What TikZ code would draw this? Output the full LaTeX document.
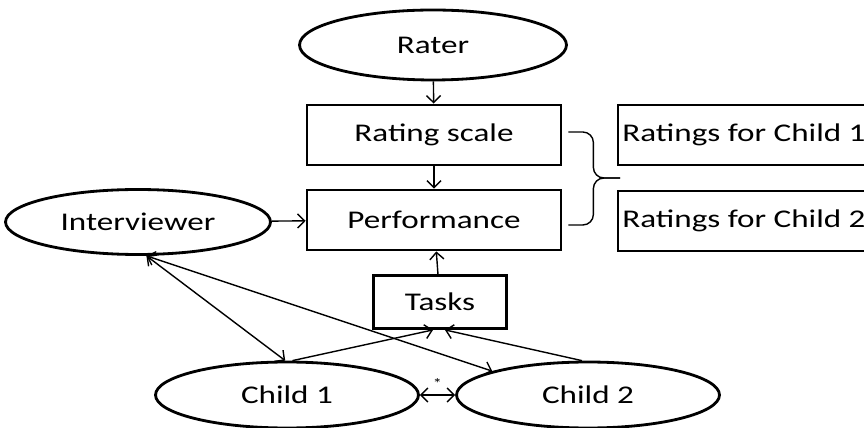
\documentclass[tikz,border=0pt]{standalone}
\usepackage{fontspec}
\setmainfont{Carlito}[FakeStretch=1.3]
\usepackage{tikz}
\usetikzlibrary{arrows.meta,shapes.geometric}
\tikzset{>={Straight Barb[length=4pt,width=8pt]}}

\begin{document}
\begin{tikzpicture}[x=0.02cm,y=-0.02cm]
      \tikzstyle{oval}=[draw,ellipse,line width=1.6pt,inner sep=0pt,font=\fontsize{14.5}{17}\selectfont];
      \tikzstyle{box}=[draw,rectangle,line width=1.6pt,inner sep=0pt,font=\fontsize{14.5}{17}\selectfont];
      \tikzstyle{link}=[line width=0.8pt];
      \useasboundingbox (0,0) rectangle (864,428);
      \node[oval,minimum width=5.34cm,minimum height=1.4cm] (rater) at (433,45) {Rater};
      \node[box,minimum width=5.08cm,minimum height=1.2cm] (ratingscale) at (434,135) {Rating scale};
      \node[box,minimum width=5.08cm,minimum height=1.2cm] (performance) at (434,220) {Performance};
      \node[box,minimum width=5.04cm,minimum height=1.2cm] (ratings1) at (744,135) {Ratings for Child 1};
      \node[box,minimum width=5.04cm,minimum height=1.2cm] (ratings2) at (744,221) {Ratings for Child 2};
      \node[oval,minimum width=5.3cm,minimum height=1.3cm] (interviewer) at (138,222) {Interviewer};
      \node[box,minimum width=2.66cm,minimum height=1.06cm] (tasks) at (440,302) {Tasks};
      \node[oval,minimum width=5.26cm,minimum height=1.32cm] (child1) at (287,395) {Child 1};
      \node[oval,minimum width=5.26cm,minimum height=1.32cm] (child2) at (588,395) {Child 2};

      \draw[link,->] (rater) -- (ratingscale);
      \draw[link,->] (ratingscale) -- (performance);
      \draw[link,->] (interviewer) -- (performance);
      \draw[link,->] (tasks) -- (performance);
      \draw[link,<->] (interviewer.-76) -- (child1.93);
      \draw[link,<->] (interviewer.-76) -- (child2.166);
      \draw[link,->] (child1.81) -- (tasks.-104);
      \draw[link,->] (child2.100) -- (tasks.-80);
      \draw[link,<->] (child1) -- (child2) node[midway,above=0pt,font=\fontsize{8}{8}\selectfont]{*};

      \coordinate (brtop) at ([xshift=0.12cm,yshift=0.06cm]ratingscale.east);
      \coordinate (brbot) at ([xshift=0.12cm,yshift=-0.1cm]performance.east);
      \coordinate (brtip) at (620,178);
      \draw[link,rounded corners=6pt] (brtop) -- ++(25,0) |- (brtip);
      \draw[link,rounded corners=6pt] (brbot) -- ++(25,0) |- (brtip);
    \end{tikzpicture}
\end{document}
